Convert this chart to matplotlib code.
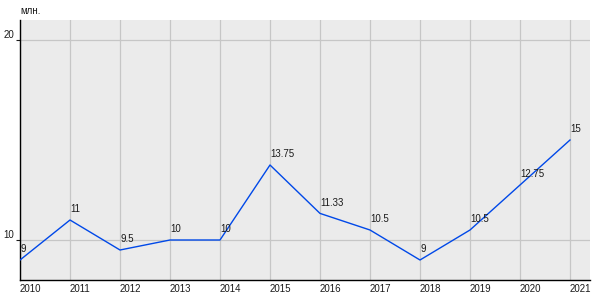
import matplotlib
matplotlib.use('Agg')
import matplotlib.pyplot as plt

plt.rcParams.update({
    'font.family': ['Liberation Sans', 'DejaVu Sans'],
    'font.size': 7,
})

years = [2010, 2011, 2012, 2013, 2014, 2015, 2016, 2017, 2018, 2019, 2020, 2021]
values = [9, 11, 9.5, 10, 10, 13.75, 11.33, 10.5, 9, 10.5, 12.75, 15]
labels = ['9', '11', '9.5', '10', '10', '13.75', '11.33', '10.5', '9', '10.5', '12.75', '15']

LINE = '#0048e8'
BG = '#ebebeb'
GRID = '#c6c6c6'
TEXT = '#1a1a1a'

fig = plt.figure(figsize=(6, 3), dpi=100)
ax = fig.add_axes([20 / 600, 20 / 300, 570 / 600, 260 / 300])
ax.set_facecolor(BG)

ax.plot(years, values, color=LINE, lw=1.0, zorder=3)
for x, y, t in zip(years, values, labels):
    ax.annotate(t, (x, y), xytext=(0.3, 4), textcoords='offset points',
                ha='left', va='bottom', fontsize=7, color=TEXT, zorder=4)

ax.set_xlim(2010, 2021.4)
ax.set_ylim(8, 21)
ax.set_xticks(years)
ax.set_yticks([10, 20])
ax.grid(True, color=GRID, lw=0.9)
ax.set_axisbelow(True)

for s in ['top', 'right']:
    ax.spines[s].set_visible(False)
for s in ['left', 'bottom']:
    ax.spines[s].set_color('black')
    ax.spines[s].set_linewidth(1.0)

ax.tick_params(axis='x', length=0, pad=3, labelsize=7, colors=TEXT)
ax.tick_params(axis='y', length=3, width=0.8, pad=1, labelsize=7, colors=TEXT)
for lbl in ax.get_xticklabels():
    lbl.set_horizontalalignment('left')
for lbl in ax.get_yticklabels():
    lbl.set_verticalalignment('bottom')

fig.text(20 / 600, 1 - 11 / 300, 'млн.', fontsize=7, color=TEXT, ha='left', va='center')

fig.savefig('out.png', dpi=100, facecolor='white')
